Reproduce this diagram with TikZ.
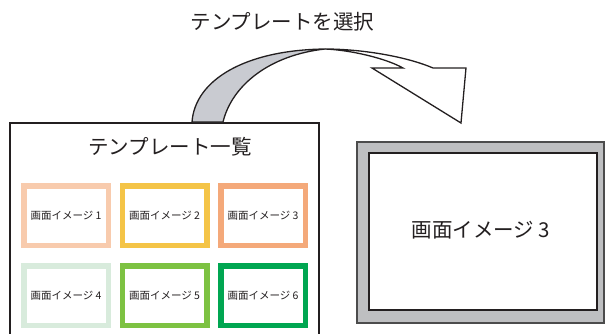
\documentclass[tikz,border=0pt]{standalone}
\usepackage{fontspec}
\setmainfont{Noto Sans CJK JP}
\definecolor{ink}{HTML}{231F20}
\definecolor{arrowgray}{HTML}{C9CBD1}
\definecolor{panelgray}{HTML}{BEBFC1}
\definecolor{cA}{HTML}{F8CBAD}
\definecolor{cB}{HTML}{F4C447}
\definecolor{cC}{HTML}{F4A97A}
\definecolor{cD}{HTML}{D8EBDC}
\definecolor{cE}{HTML}{7DC242}
\definecolor{cF}{HTML}{00A651}
\begin{document}
\begin{tikzpicture}[x=1pt,y=-1pt,
  thumb/.style={draw=#1,line width=5.5pt,fill=white,minimum width=84.5pt,minimum height=59.5pt,inner sep=0pt,text=ink,font=\fontsize{10.5pt}{12pt}\selectfont},
  bigtext/.style={text=ink,font=\fontsize{20.5pt}{24pt}\selectfont,inner sep=0pt}]
\useasboundingbox (0,0) rectangle (605,333);
\clip (0,0) rectangle (605,333);
% left panel
\draw[ink,line width=2pt] (10,345) -- (10,123) -- (319,123) -- (319,345);
\node[bigtext] (title) at (170,147) {テンプレート一覧};
\node[thumb=cA] (t1) at (66,215.5) {画面イメージ 1};
\node[thumb=cB] (t2) at (164.5,215.5) {画面イメージ 2};
\node[thumb=cC] (t3) at (263,215.5) {画面イメージ 3};
\node[thumb=cD] (t4) at (66,295.5) {画面イメージ 4};
\node[thumb=cE] (t5) at (164.5,295.5) {画面イメージ 5};
\node[thumb=cF] (t6) at (263,295.5) {画面イメージ 6};
% right panel
\draw[draw=black!70,line width=1.5pt,fill=panelgray] (357,142) rectangle (604,323);
\draw[draw=ink,line width=1.2pt,fill=white] (369,153) rectangle (597,310);
\node[bigtext] (big) at (481,230) {画面イメージ 3};
% arrow
\node[bigtext] (sel) at (282.5,22) {テンプレートを選択};
\draw[ink,line width=1.3pt,fill=arrowgray,line join=round]
  (192,122) .. controls (195,80) and (245,50) .. (325,49)
  .. controls (270,55) and (232,85) .. (223,122) -- cycle;
\draw[ink,line width=1.3pt,fill=white,line join=miter]
  (325,49) .. controls (360,49) and (405,56) .. (433,68) -- (466,68) -- (461,123) -- (372,68) -- (403,68)
  .. controls (385,58) and (350,50) .. (325,49) -- cycle;
\end{tikzpicture}
\end{document}
